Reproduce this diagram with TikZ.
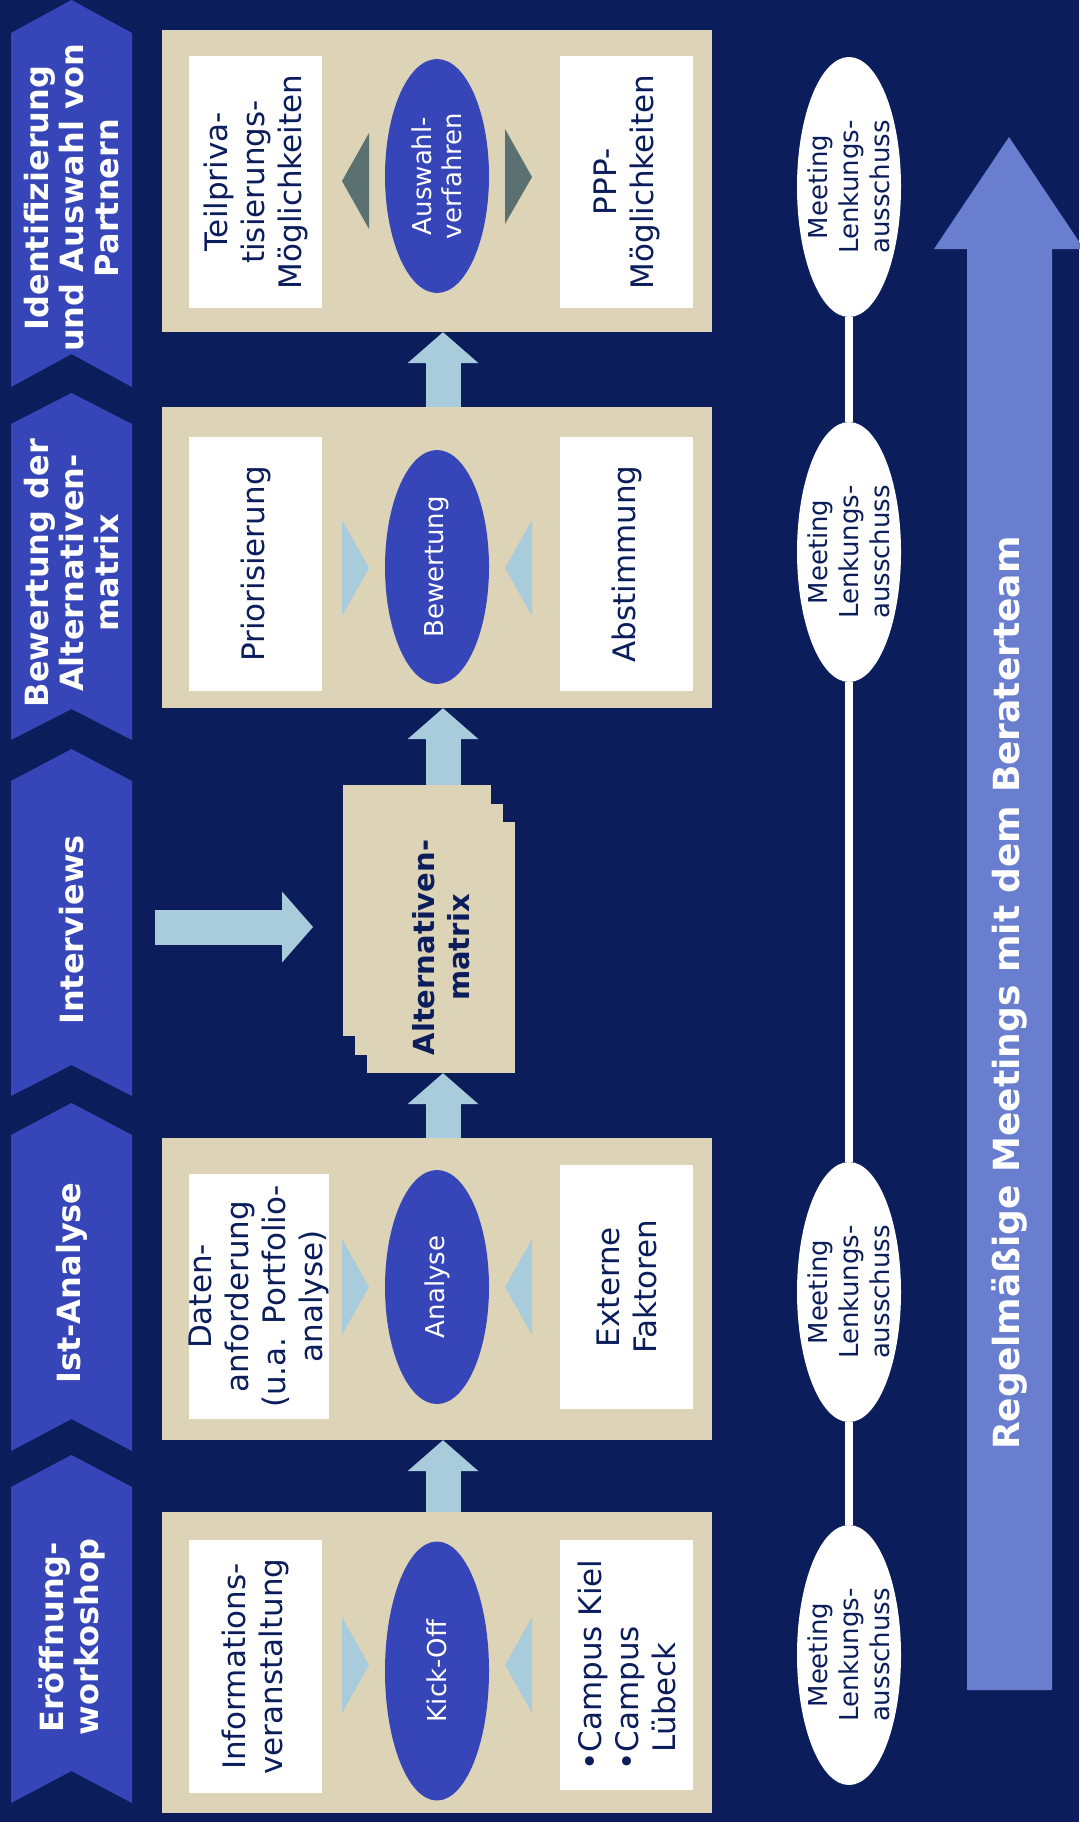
\documentclass[tikz,border=0pt]{standalone}
\usepackage{fontspec}
\setmainfont{DejaVu Sans}
\usetikzlibrary{positioning, arrows.meta, shapes.geometric}

\definecolor{navy}{HTML}{0B1E5B}
\definecolor{chevblue}{HTML}{3646B8}
\definecolor{panelbg}{HTML}{DDD3B6}
\definecolor{lblue}{HTML}{A8CCDB}
\definecolor{slate}{HTML}{5B7171}
\definecolor{bigblue}{HTML}{6A7ED0}

\begin{document}
\begin{tikzpicture}[x=1pt, y=-1pt,
    chevtext/.style={rotate=90, align=center, text=white, font=\bfseries\fontsize{32}{35}\selectfont},
    panel/.style={fill=panelbg, minimum width=550pt, inner sep=0pt},
    wbox/.style={fill=white, rotate=90, align=center, text=navy, inner sep=0pt, minimum height=133pt, font=\fontsize{31}{37}\selectfont},
    oval/.style={ellipse, fill=chevblue, rotate=90, minimum width=234pt, minimum height=104pt, inner sep=0pt, text=white, align=center, font=\fontsize{26}{30}\selectfont},
    meet/.style={ellipse, fill=white, minimum width=104pt, minimum height=260pt, inner sep=0pt},
    meettext/.style={rotate=90, align=center, text=navy, font=\fontsize{26}{31}\selectfont},
    sheet/.style={fill=panelbg, minimum width=148pt, minimum height=251pt, inner sep=0pt},
    fat/.style={draw=lblue, line width=35pt, -{Triangle[length=31pt, width=71pt, line width=0pt]}},
    link/.style={draw=white, line width=8pt},
  ]
  \useasboundingbox (0,0) rectangle (1079,1822);
  \fill[navy] (0,0) rectangle (1079,1822);

  \foreach \ya/\ys/\yn/\yb in {0/33/354/387, 393/424/709/740, 749/781/1065/1096, 1103/1135/1419/1451, 1455/1487/1771/1803}
    \fill[chevblue] (71.5,\ya) -- (132,\ys) -- (132,\yb) -- (71.5,\yn) -- (11,\yb) -- (11,\ys) -- cycle;
  \node[chevtext] (ch1) at (71.5,198) {Identifizierung\\und Auswahl von\\Partnern};
  \node[chevtext] (ch2) at (71.5,573) {Bewertung der\\Alternativen-\\matrix};
  \node[chevtext] (ch3) at (71.5,930) {Interviews};
  \node[chevtext] (ch4) at (71.5,1283) {Ist-Analyse};
  \node[chevtext] (ch5) at (71.5,1637) {Eröffnung-\\workoshop};

  \node[panel, minimum height=302pt] (p1) at (437,181) {};
  \node[panel, minimum height=301pt] (p2) at (437,557.5) {};
  \node[panel, minimum height=302pt] (p3) at (437,1289) {};
  \node[panel, minimum height=301pt] (p4) at (437,1662.5) {};

  \node[wbox, minimum width=252pt] (lb1) at (255.5,182) {Teilpriva-\\tisierungs-\\Möglichkeiten};
  \node[wbox, minimum width=254pt] (lb2) at (255.5,564) {Priorisierung};
  \node[wbox, minimum width=245pt, minimum height=140pt] (lb3) at (259,1296.5) {Daten-\\anforderung\\(u.a. Portfolio-\\analyse)};
  \node[wbox, minimum width=253pt] (lb4) at (255.5,1666.5) {Informations-\\veranstaltung};
  \node[wbox, minimum width=252pt] (rb1) at (626.5,182) {PPP-\\Möglichkeiten};
  \node[wbox, minimum width=254pt] (rb2) at (626.5,564) {Abstimmung};
  \node[wbox, minimum width=244pt] (rb3) at (626.5,1287) {Externe\\Faktoren};
  \node[wbox, minimum width=250pt, align=left] (rb4) at (626.5,1665) {•Campus Kiel\\•Campus\\\phantom{•}Lübeck};

  \node[oval] (e1) at (437,176) {Auswahl-\\verfahren};
  \node[oval] (e2) at (437,567) {Bewertung};
  \node[oval] (e3) at (437,1287) {Analyse};
  \node[oval, minimum width=259pt] (e4) at (437,1671) {Kick-Off};

  \fill[slate] (369,133) -- (369,229) -- (342,181) -- cycle;
  \fill[slate] (505,129) -- (505,224) -- (532,177) -- cycle;
  \foreach \y in {568,1287,1665} {
    \fill[lblue] (342,\y-48) -- (342,\y+48) -- (369,\y) -- cycle;
    \fill[lblue] (532,\y-48) -- (532,\y+48) -- (505,\y) -- cycle;
  }

  \node[sheet] (am1) at (417,910.5) {};
  \node[sheet] (am2) at (429,929) {};
  \node[sheet] (am3) at (441,947.5) {};
  \node[rotate=90, align=center, text=navy, font=\bfseries\fontsize{29}{35}\selectfont] (amt) at (am3) {Alternativen-\\matrix};

  \coordinate (ax) at (443,0);
  \draw[fat] (p2.north -| ax) -- (p1.south -| ax);
  \draw[fat] (am1.north -| ax) -- (p2.south -| ax);
  \draw[fat] (p3.north -| ax) -- (am3.south -| ax);
  \draw[fat] (p4.north -| ax) -- (p3.south -| ax);
  \coordinate (ivout) at (155,927);
  \coordinate (ivin) at (313,927);
  \draw[fat] (ivout) -- (ivin);

  \node[meet] (m1) at (849,187) {};
  \node[meet] (m2) at (849,552) {};
  \node[meet] (m3) at (849,1292) {};
  \node[meet] (m4) at (849,1655) {};
  \draw[link] (m1) -- (m2);
  \draw[link] (m2) -- (m3);
  \draw[link] (m3) -- (m4);
  \node[meettext] (m1t) at (m1) {Meeting\\Lenkungs-\\ausschuss};
  \node[meettext] (m2t) at (m2) {Meeting\\Lenkungs-\\ausschuss};
  \node[meettext] (m3t) at (m3) {Meeting\\Lenkungs-\\ausschuss};
  \node[meettext] (m4t) at (m4) {Meeting\\Lenkungs-\\ausschuss};

  \fill[bigblue] (967,1690) -- (967,249) -- (934,249) -- (1009,137) -- (1084,249) -- (1052,249) -- (1052,1690) -- cycle;
  \node[rotate=90, text=white, font=\bfseries\fontsize{36}{40}\selectfont] (rg) at (1009.5,993) {Regelmäßige Meetings mit dem Beraterteam};
\end{tikzpicture}
\end{document}
